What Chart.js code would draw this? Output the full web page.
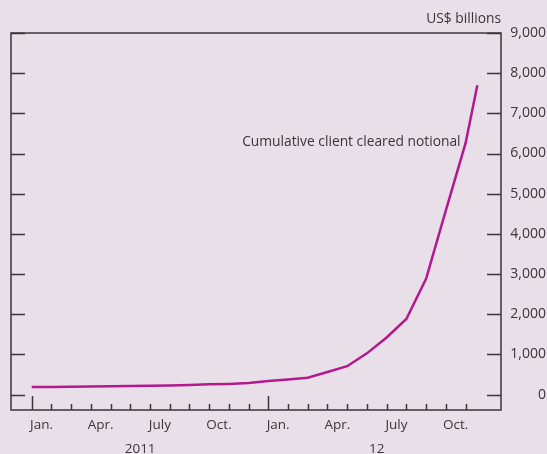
<!DOCTYPE html>
<html>
<head>
<meta charset="utf-8">
<script src="https://cdn.jsdelivr.net/npm/chart.js@4.4.1/dist/chart.umd.min.js"></script>
<style>
  html, body { margin: 0; padding: 0; background: #e9dfe9; }
  #wrap { width: 547px; height: 454px; }
</style>
</head>
<body>
<div id="wrap"><canvas id="chart"></canvas></div>
<script>
// months counted from Jan 2011 (0 = Jan 2011, 12 = Jan 2012)
const months = [0, 1, 2, 3, 4, 5, 6, 7, 8, 9, 10, 11, 12, 13, 14, 15, 16, 17, 18, 19, 20, 21, 22, 22.6];
const cleared = [185, 190, 195, 200, 205, 212, 220, 228, 240, 255, 265, 285, 335, 375, 418, 560, 705, 1025, 1420, 1880, 2880, 4580, 6250, 7700];

const yTicks = [0, 1000, 2000, 3000, 4000, 5000, 6000, 7000, 8000, 9000];
const monthLabels = ["Jan.", "Apr.", "July", "Oct.", "Jan.", "Apr.", "July", "Oct."];
const monthLabelAt = [0.5, 3.5, 6.5, 9.5, 12.5, 15.5, 18.5, 21.5];
const yearLabels = ["2011", "12"];
const yearLabelAt = [5.5, 17.5];
const monthTicks = 23; // Jan 2011 .. Nov 2012

const seriesName = "Cumulative client cleared notional";
const unitLabel = "US$ billions";

const bg = "#e9dfe9";
const ink = "#3a3536";
const lineColor = "#b3198f";
const font = "'Open Sans', sans-serif";

const frame = {
  id: "frame",
  beforeDraw(chart) {
    const { ctx, width, height } = chart;
    ctx.save();
    ctx.fillStyle = bg;
    ctx.fillRect(0, 0, width, height);
    ctx.restore();
  },
  afterDatasetsDraw(chart) {
    const { ctx, chartArea: a, scales: { x, y } } = chart;
    ctx.save();
    ctx.strokeStyle = ink;
    ctx.lineWidth = 1.5;
    ctx.strokeRect(a.left, a.top, a.right - a.left, a.bottom - a.top);

    ctx.beginPath();
    yTicks.forEach((v) => {
      const py = Math.round(y.getPixelForValue(v)) + 0.5;
      ctx.moveTo(a.left, py);
      ctx.lineTo(a.left + 14, py);
      ctx.moveTo(a.right - 14, py);
      ctx.lineTo(a.right, py);
    });
    for (let i = 0; i < monthTicks; i++) {
      const px = Math.round(x.getPixelForValue(i)) + 0.5;
      const len = i % 12 === 0 ? 14 : 6;
      ctx.moveTo(px, a.bottom);
      ctx.lineTo(px, a.bottom - len);
    }
    ctx.stroke();

    ctx.fillStyle = ink;
    ctx.font = `13.8px ${font}`;
    ctx.textAlign = "right";
    ctx.textBaseline = "middle";
    ctx.fillText(unitLabel, a.right, 19);
    ctx.fillText(seriesName, x.getPixelForValue(21.75), y.getPixelForValue(6280));
    ctx.restore();
  },
};

new Chart(document.getElementById("chart"), {
  type: "line",
  data: {
    datasets: [
      {
        label: seriesName,
        data: months.map((m, i) => ({ x: m, y: cleared[i] })),
        borderColor: lineColor,
        backgroundColor: lineColor,
        borderWidth: 2.5,
        pointRadius: 0,
        tension: 0,
      },
    ],
  },
  options: {
    responsive: true,
    maintainAspectRatio: false,
    animation: false,
    layout: { padding: { left: 11, right: 1, top: 33, bottom: 0 } },
    plugins: { legend: { display: false }, tooltip: { enabled: false } },
    scales: {
      x: {
        type: "linear",
        position: "bottom",
        min: -1.05,
        max: 23.8,
        grid: { display: false, drawTicks: false },
        border: { display: false },
        afterBuildTicks: (s) => { s.ticks = monthLabelAt.map((v) => ({ value: v })); },
        afterFit: (s) => { s.height = 24; },
        ticks: {
          autoSkip: false,
          maxRotation: 0,
          padding: 7,
          color: ink,
          font: { family: font, size: 13.5 },
          callback: (v, i) => monthLabels[i],
        },
      },
      xYear: {
        type: "linear",
        position: "bottom",
        min: -1.05,
        max: 23.8,
        grid: { display: false, drawTicks: false },
        border: { display: false },
        afterBuildTicks: (s) => { s.ticks = yearLabelAt.map((v) => ({ value: v })); },
        afterFit: (s) => { s.height = 20; },
        ticks: {
          autoSkip: false,
          maxRotation: 0,
          padding: 7,
          color: ink,
          font: { family: font, size: 13.5 },
          callback: (v, i) => yearLabels[i],
        },
      },
      y: {
        position: "right",
        min: -385,
        max: 9000,
        grid: { display: false, drawTicks: false },
        border: { display: false },
        afterBuildTicks: (s) => { s.ticks = yTicks.map((v) => ({ value: v })); },
        afterFit: (s) => { s.width = 45; },
        ticks: {
          crossAlign: "far",
          padding: 0,
          color: ink,
          font: { family: font, size: 14 },
          callback: (v) => v.toLocaleString("en-US"),
        },
      },
    },
  },
  plugins: [frame],
});
</script>
</body>
</html>
